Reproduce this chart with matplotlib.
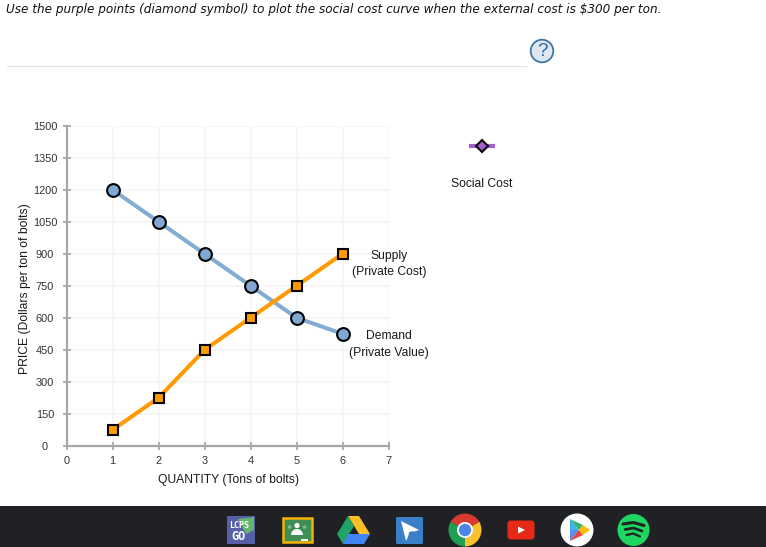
import matplotlib
matplotlib.use('Agg')
import matplotlib.pyplot as plt
from matplotlib.patches import Circle, Polygon, Rectangle, FancyBboxPatch, Wedge

quantity = [1, 2, 3, 4, 5, 6]
demand = [1200, 1050, 900, 750, 600, 525]
supply = [75, 225, 450, 600, 750, 900]
x_ticks = [0, 1, 2, 3, 4, 5, 6, 7]
y_ticks = [0, 150, 300, 450, 600, 750, 900, 1050, 1200, 1350, 1500]

W, H = 766, 547
plt.rcParams['font.family'] = ['Liberation Sans', 'DejaVu Sans']

fig = plt.figure(figsize=(W / 100, H / 100), dpi=100)

# Page overlay in pixel coordinates
page = fig.add_axes([0, 0, 1, 1], zorder=5)
page.set_xlim(0, W)
page.set_ylim(H, 0)
page.axis('off')

# Chart
left, right, top, bottom = 66.6, 388.6, 125.8, 445.8
ax = fig.add_axes([left / W, 1 - bottom / H, (right - left) / W, (bottom - top) / H], zorder=1)
ax.set_xlim(0, 7)
ax.set_ylim(0, 1500)
ax.grid(True, color='#f4f4f4', lw=1.1)
ax.set_axisbelow(True)
for s in ['top', 'right']:
    ax.spines[s].set_visible(False)
for s in ['left', 'bottom']:
    ax.spines[s].set_color('#a8a8a8')
    ax.spines[s].set_linewidth(1.6)
ax.set_xticks(x_ticks)
ax.set_yticks(y_ticks)
ax.tick_params(axis='x', direction='inout', length=5.2, width=1.1, color='#999999',
               labelsize=7.9, labelcolor='#333333', pad=5)
ax.tick_params(axis='y', direction='inout', length=5.2, width=1.1, color='#999999',
               labelsize=7.9, labelcolor='#333333', pad=13)
# y tick labels are centred on one column in the reference
for lab in ax.get_yticklabels():
    lab.set_ha('center')
ax.set_xlabel('QUANTITY (Tons of bolts)', fontsize=8.7, color='#1a1a1a')
ax.set_ylabel('PRICE (Dollars per ton of bolts)', fontsize=8.75, color='#1a1a1a')
ax.xaxis.set_label_coords((228.5 - left) / (right - left), (bottom - 474.5) / (bottom - top))
ax.xaxis.label.set_va('top')
ax.yaxis.set_label_coords((25 - left) / (right - left), (bottom - 288.5) / (bottom - top))
ax.yaxis.label.set_va('center')

ax.plot(quantity, demand, color='#82acd4', lw=2.9, marker='o', ms=9.2, mfc='#7fa9d2',
        mec='black', mew=1.5, clip_on=False, zorder=3)
ax.plot(quantity, supply, color='#ff9a00', lw=2.9, marker='s', ms=7.4, mfc='#ff9a00',
        mec='black', mew=1.5, clip_on=False, zorder=4)

# Curve labels
page.text(389, 255.5, 'Supply', ha='center', va='center', fontsize=8.75, color='#1a1a1a')
page.text(389, 272.5, '(Private Cost)', ha='center', va='center', fontsize=8.75, color='#1a1a1a')
page.text(389, 336, 'Demand', ha='center', va='center', fontsize=8.75, color='#1a1a1a')
page.text(389, 353, '(Private Value)', ha='center', va='center', fontsize=8.75, color='#1a1a1a')

# Question text and answer line
page.text(6, 10, 'Use the purple points (diamond symbol) to plot the social cost curve when the external cost is $300 per ton.',
          ha='left', va='center', fontsize=8.66, style='italic', family='DejaVu Sans', color='#111111')
page.plot([7, 526], [65.5, 65.5], color='#e2e2e2', lw=0.8)

# Help button
page.add_patch(Circle((542, 51), 11.3, fc='#dfe8f1', ec='#3f78a8', lw=1.3))
page.text(542, 51.5, '?', ha='center', va='center', fontsize=13.5, color='#2f6a9e')

# Social cost palette item
page.plot([469, 495], [146, 146], color='#a55fd0', lw=3, solid_capstyle='butt')
page.plot([482], [146], marker='D', ms=6.6, mfc='#a55fd0', mec='black', mew=1.5)
page.text(482, 184, 'Social Cost', ha='center', va='center', fontsize=8.75, color='#1a1a1a')

# Taskbar
page.add_patch(Rectangle((0, 506), W, 41, fc='#202124', ec='none'))

# LCPS GO
page.add_patch(Rectangle((227, 516), 28, 28, fc='#5560a8', ec='none'))
page.add_patch(Polygon([[238, 519], [254, 517], [254, 530], [246, 534]], fc='#63b76c', ec='none'))
page.text(239, 525.5, 'LCPS', ha='center', va='center', fontsize=6, color='white',
          weight='bold', family='DejaVu Sans Mono')
page.text(239, 536.5, 'GO', ha='center', va='center', fontsize=8.5, color='white',
          weight='bold', family='DejaVu Sans Mono')

# Classroom
page.add_patch(Rectangle((282.5, 518), 29, 24, fc='#3f8f55', ec='#f4b400', lw=1.8))
page.add_patch(Circle((297, 525.5), 2.6, fc='white', ec='none'))
page.add_patch(Circle((289.5, 527), 1.8, fc='#7fb98f', ec='none'))
page.add_patch(Circle((304.5, 527), 1.8, fc='#7fb98f', ec='none'))
page.add_patch(Wedge((297, 535), 6, 180, 360, fc='white', ec='none'))
page.add_patch(Rectangle((301, 539), 7, 1.5, fc='white', ec='none'))

# Drive
page.add_patch(Polygon([[348, 516], [359, 516], [370, 534], [359, 534]], fc='#f6c026', ec='none'))
page.add_patch(Polygon([[348, 516], [337, 534], [343, 544], [354, 526]], fc='#1fa463', ec='none'))
page.add_patch(Polygon([[348, 534], [370, 534], [364, 544], [343, 544]], fc='#4285f4', ec='none'))

# Blue app
page.add_patch(FancyBboxPatch((396, 517), 27, 27, boxstyle='round,pad=0,rounding_size=1.5',
                              fc='#3a7fc8', ec='none'))
page.add_patch(Polygon([[401, 521], [419, 530], [410, 533], [406, 541]], fc='white', ec='none'))
page.add_patch(Polygon([[409, 532], [414, 531], [408, 539]], fc='#3a7fc8', ec='none'))

# Chrome
page.add_patch(Wedge((465, 530), 16.5, 90, 210, fc='#1e9e50', ec='none'))
page.add_patch(Wedge((465, 530), 16.5, 330, 90, fc='#fbc02d', ec='none'))
page.add_patch(Wedge((465, 530), 16.5, 210, 330, fc='#d93a2f', ec='none'))
page.add_patch(Circle((465, 530), 8, fc='white', ec='none'))
page.add_patch(Circle((465, 530), 6.2, fc='#4a86e8', ec='none'))

# YouTube
page.add_patch(FancyBboxPatch((507.5, 520.5), 27, 19, boxstyle='round,pad=0,rounding_size=3.5',
                              fc='#e62a17', ec='none'))
page.add_patch(Polygon([[518, 526.5], [518, 533.5], [525, 530]], fc='white', ec='none'))

# Play store
page.add_patch(Circle((577, 530), 16.5, fc='white', ec='none'))
page.add_patch(Polygon([[570, 519], [570, 530], [579, 530]], fc='#3fb2e8', ec='none'))
page.add_patch(Polygon([[570, 519], [579, 530], [583, 525]], fc='#3bb273', ec='none'))
page.add_patch(Polygon([[570, 541], [570, 530], [579, 530]], fc='#5b8def', ec='none'))
page.add_patch(Polygon([[570, 541], [579, 530], [583, 535]], fc='#e8453c', ec='none'))
page.add_patch(Polygon([[583, 525], [590, 530], [583, 535], [579, 530]], fc='#fbbc05', ec='none'))

# Spotify
page.add_patch(Circle((633.5, 530), 16, fc='#1ed760', ec='none'))
for y0, x0, x1, lw in [(524, 623, 644, 2.2), (529.5, 625, 642, 1.9), (535, 626.5, 640, 1.6)]:
    page.plot([x0, (x0 + x1) / 2, x1], [y0, y0 - 1.5, y0 + 1.5], color='#202124', lw=lw,
              solid_capstyle='round')

fig.savefig('out.png', dpi=100)
